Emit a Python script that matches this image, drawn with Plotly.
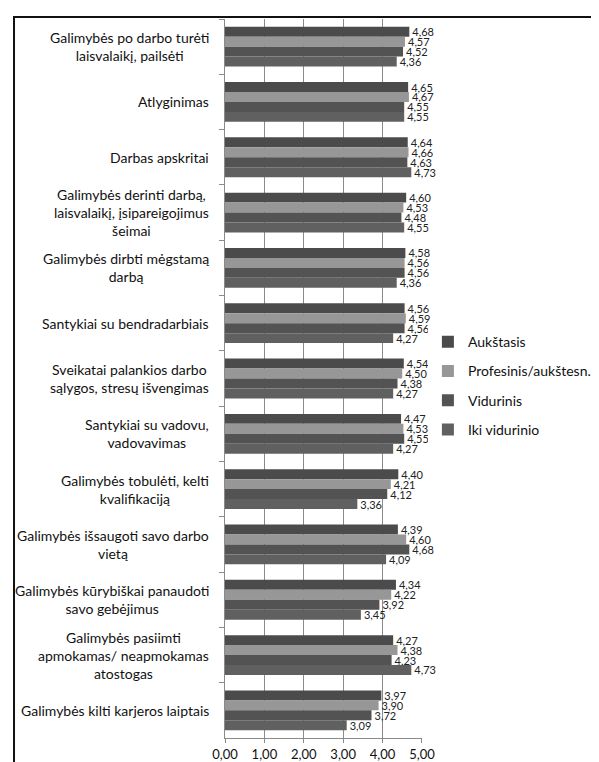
import plotly.graph_objects as go

categories = [
    "Galimybės po darbo turėti<br>laisvalaikį, pailsėti",
    "Atlyginimas",
    "Darbas apskritai",
    "Galimybės derinti darbą,<br>laisvalaikį, įsipareigojimus<br>šeimai",
    "Galimybės dirbti mėgstamą<br>darbą",
    "Santykiai su bendradarbiais",
    "Sveikatai palankios darbo<br>sąlygos, stresų išvengimas",
    "Santykiai su vadovu,<br>vadovavimas",
    "Galimybės tobulėti, kelti<br>kvalifikaciją",
    "Galimybės išsaugoti savo darbo<br>vietą",
    "Galimybės kūrybiškai panaudoti<br>savo gebėjimus",
    "Galimybės pasiimti<br>apmokamas/ neapmokamas<br>atostogas",
    "Galimybės kilti karjeros laiptais",
]

series_names = ["Aukštasis", "Profesinis/aukštesn.", "Vidurinis", "Iki vidurinio"]

aukstasis = [4.68, 4.65, 4.64, 4.60, 4.58, 4.56, 4.54, 4.47, 4.40, 4.39, 4.34, 4.27, 3.97]
profesinis = [4.57, 4.67, 4.66, 4.53, 4.56, 4.59, 4.50, 4.53, 4.21, 4.60, 4.22, 4.38, 3.90]
vidurinis = [4.52, 4.55, 4.63, 4.48, 4.56, 4.56, 4.38, 4.55, 4.12, 4.68, 3.92, 4.23, 3.72]
iki_vidurinio = [4.36, 4.55, 4.73, 4.55, 4.36, 4.27, 4.27, 4.27, 3.36, 4.09, 3.45, 4.73, 3.09]

x_ticks = [0, 1, 2, 3, 4, 5]

colors = ["#4b4b4b", "#979797", "#535353", "#606060"]
series_values = [aukstasis, profesinis, vidurinis, iki_vidurinio]

FONT = "Lato"

fig = go.Figure()
for i, (name, vals) in enumerate(zip(series_names, series_values)):
    fig.add_trace(go.Bar(
        y=categories, x=vals, name=name, orientation="h",
        marker=dict(color=colors[i], line=dict(width=0)),
        text=vals, texttemplate="%{x:.2f}", textposition="outside",
        textfont=dict(size=11, color="#222222", family=FONT),
        constraintext="none", cliponaxis=False,
        legendgroup=name,
    ))

annotations = []
for c in categories:
    annotations.append(dict(
        x=-0.071, xref="paper", y=c, yref="y", text=c, showarrow=False,
        xanchor="right", yanchor="middle", align="center",
        font=dict(size=14, color="#111111", family=FONT),
    ))

fig.update_layout(
    width=599, height=762,
    margin=dict(l=217, r=185, t=11, b=32, autoexpand=False),
    paper_bgcolor="white", plot_bgcolor="white",
    barmode="group", bargap=0.28, bargroupgap=0.0,
    separators=", ",
    font=dict(family=FONT, color="#111111"),
    legend=dict(
        x=1.03, xanchor="left", y=0.49, yanchor="middle",
        font=dict(size=14, family=FONT, color="#111111"),
        traceorder="grouped", tracegroupgap=8,
        itemwidth=30,
    ),
    annotations=annotations,
    shapes=[dict(
        type="rect", xref="paper", yref="paper",
        x0=-1.071, x1=2.0, y0=-0.06, y1=1.0028,
        line=dict(color="#111111", width=2), layer="above",
    )],
)

fig.update_xaxes(
    range=[0, 5.002], tickvals=x_ticks, tickformat=".2f",
    showgrid=True, gridcolor="#8a8a8a", gridwidth=1,
    showline=True, linecolor="#8a8a8a", linewidth=1,
    ticks="outside", ticklen=4, tickcolor="#8a8a8a",
    tickfont=dict(size=13, family=FONT, color="#111111"),
    zeroline=False, mirror=False,
)
fig.update_yaxes(
    autorange="reversed", showticklabels=False,
    showline=True, linecolor="#8a8a8a", linewidth=1,
    ticks="outside", ticklen=5, tickcolor="#8a8a8a", tickson="boundaries",
    showgrid=False,
)

fig.write_html("out.html")
